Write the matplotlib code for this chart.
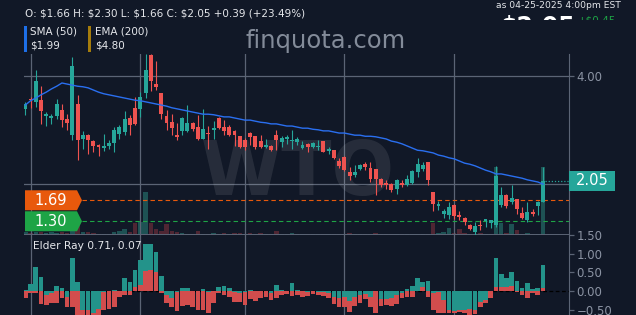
import numpy as np
import pandas as pd
import matplotlib
matplotlib.use("Agg")
import matplotlib.pyplot as plt
from matplotlib.patches import Polygon, Rectangle
from matplotlib.ticker import FuncFormatter
from matplotlib.transforms import blended_transform_factory

# trading days on the chart (exchange holidays left out)
holidays = ["2024-12-25", "2025-01-01", "2025-01-09", "2025-01-20",
            "2025-02-17", "2025-04-18"]
dates = pd.bdate_range("2024-11-29", "2025-04-25", freq="C", holidays=holidays)

opens = [3.39, 3.57, 3.52, 3.55, 3.26, 3.22, 3.26, 3.37, 3.20, 2.90,
         3.48, 2.83, 2.90, 2.79, 2.72, 2.66, 2.70, 2.75, 2.92, 2.96,
         3.22, 3.41, 3.39, 3.68, 4.39, 3.85, 3.68, 3.26, 3.14, 2.90,
         2.98, 2.98, 3.13, 3.05, 2.83, 2.94, 3.00, 3.22, 3.05, 3.05,
         2.98, 2.88, 2.81, 2.94, 2.88, 2.79, 2.68, 2.70, 2.90, 2.77,
         2.83, 2.79, 2.77, 2.66, 2.74, 2.68, 2.68, 2.79, 2.61, 2.62,
         2.42, 2.49, 2.22, 2.16, 2.27, 2.36, 2.29, 2.27, 2.09, 2.01,
         1.99, 1.90, 2.01, 1.97, 2.01, 2.22, 2.27, 2.40, 1.84, 1.58,
         1.43, 1.42, 1.60, 1.42, 1.36, 1.23, 1.10, 1.23, 1.30, 1.27,
         1.23, 1.60, 1.79, 1.66, 1.71, 1.45, 1.32, 1.47, 1.58, 1.66]
highs = [3.52, 3.61, 4.11, 3.81, 3.33, 3.29, 3.57, 3.48, 3.29, 4.35,
         3.65, 2.98, 2.92, 2.81, 2.74, 2.92, 2.81, 3.05, 3.09, 3.35,
         3.28, 3.61, 3.70, 4.40, 4.40, 4.28, 3.69, 3.37, 3.29, 3.13,
         3.23, 3.46, 3.14, 3.28, 3.39, 3.07, 3.16, 3.23, 3.18, 3.09,
         2.99, 2.89, 2.85, 2.95, 2.89, 2.90, 2.83, 2.71, 3.00, 2.88,
         2.90, 3.00, 2.87, 2.79, 2.75, 2.77, 2.81, 2.80, 2.68, 2.63,
         2.48, 2.51, 2.31, 2.35, 2.36, 2.40, 2.40, 2.28, 2.10, 2.07,
         2.01, 2.09, 2.07, 2.16, 2.25, 2.48, 2.40, 2.41, 1.85, 1.68,
         1.53, 1.66, 1.62, 1.49, 1.38, 1.25, 1.29, 1.32, 1.35, 1.33,
         2.33, 1.94, 1.81, 1.97, 1.72, 1.57, 1.66, 1.53, 1.67, 2.30]
lows = [3.28, 3.41, 3.42, 3.11, 3.07, 3.11, 3.20, 3.05, 3.00, 2.81,
        2.44, 2.64, 2.55, 2.59, 2.51, 2.61, 2.64, 2.59, 2.83, 2.90,
        2.90, 3.09, 3.24, 3.59, 3.72, 3.74, 3.20, 3.00, 2.90, 2.81,
        2.90, 2.96, 2.98, 2.81, 2.82, 2.64, 2.83, 3.01, 2.90, 2.88,
        2.70, 2.66, 2.62, 2.72, 2.64, 2.67, 2.66, 2.61, 2.62, 2.68,
        2.74, 2.64, 2.72, 2.64, 2.59, 2.66, 2.62, 2.58, 2.55, 2.46,
        2.29, 2.24, 2.07, 2.12, 2.25, 2.25, 2.03, 1.79, 1.94, 1.90,
        1.84, 1.81, 1.94, 1.96, 1.99, 2.12, 2.23, 1.97, 1.49, 1.51,
        1.36, 1.34, 1.34, 1.32, 1.23, 1.14, 1.04, 1.14, 1.19, 1.17,
        1.19, 1.57, 1.55, 1.62, 1.43, 1.34, 1.29, 1.40, 1.42, 1.66]
closes = [3.48, 3.55, 3.91, 3.35, 3.29, 3.26, 3.48, 3.18, 3.13, 4.19,
          2.81, 2.90, 2.81, 2.70, 2.68, 2.70, 2.75, 3.00, 3.05, 3.20,
          3.09, 3.11, 3.61, 4.11, 3.91, 3.80, 3.29, 3.13, 3.03, 2.87,
          3.22, 3.13, 3.01, 2.83, 3.01, 2.92, 3.03, 3.03, 2.98, 2.90,
          2.90, 2.68, 2.68, 2.87, 2.68, 2.68, 2.72, 2.62, 2.81, 2.85,
          2.87, 2.81, 2.83, 2.72, 2.68, 2.75, 2.70, 2.59, 2.64, 2.48,
          2.33, 2.25, 2.14, 2.22, 2.35, 2.31, 2.09, 2.09, 1.97, 1.97,
          1.88, 2.07, 1.97, 2.09, 2.23, 2.36, 2.35, 2.07, 1.62, 1.62,
          1.49, 1.57, 1.40, 1.38, 1.29, 1.16, 1.21, 1.21, 1.34, 1.32,
          2.14, 1.79, 1.58, 1.73, 1.53, 1.36, 1.47, 1.43, 1.66, 2.05]

sma50 = [3.46, 3.54, 3.59, 3.65, 3.70, 3.76, 3.81, 3.87, 3.85, 3.83,
         3.81, 3.80, 3.78, 3.74, 3.70, 3.67, 3.65, 3.63, 3.61, 3.59,
         3.57, 3.55, 3.54, 3.52, 3.50, 3.48, 3.46, 3.44, 3.41, 3.39,
         3.37, 3.35, 3.33, 3.31, 3.29, 3.29, 3.28, 3.26, 3.24, 3.24,
         3.22, 3.20, 3.18, 3.18, 3.16, 3.14, 3.13, 3.11, 3.11, 3.09,
         3.07, 3.07, 3.05, 3.03, 3.03, 3.01, 3.00, 2.98, 2.98, 2.96,
         2.94, 2.94, 2.92, 2.90, 2.90, 2.88, 2.88, 2.87, 2.85, 2.83,
         2.79, 2.77, 2.74, 2.70, 2.66, 2.62, 2.61, 2.59, 2.57, 2.53,
         2.51, 2.48, 2.46, 2.42, 2.38, 2.36, 2.33, 2.29, 2.25, 2.22,
         2.18, 2.18, 2.16, 2.14, 2.12, 2.10, 2.07, 2.05, 2.03, 1.99]

# volume, arbitrary units
volume = [3, 2, 3, 3, 2, 3, 2, 3, 2, 8,
          12, 3, 3, 2, 1, 1, 1, 3, 4, 6,
          3, 12, 13, 43, 12, 6, 4, 11, 4, 3,
          2, 1, 1, 4, 1, 1, 2, 1, 2, 1,
          2, 2, 1, 2, 1, 2, 1, 1, 4, 1,
          1, 2, 1, 1, 1, 1, 1, 1, 1, 1,
          1, 1, 2, 1, 1, 1, 1, 2, 1, 1,
          1, 1, 1, 1, 1, 1, 1, 1, 12, 2,
          3, 7, 2, 6, 2, 1, 1, 2, 1, 1,
          68, 12, 2, 11, 5, 1, 2, 1, 1, 68]

bull_power = [0.02, 0.19, 0.65, 0.37, -0.10, -0.05, 0.13, 0.07, -0.15, 0.88,
              0.25, -0.50, -0.52, -0.58, -0.48, -0.02, 0.00, 0.03, 0.00, 0.34,
              0.25, 0.58, 0.83, 1.28, 1.28, 1.06, 0.40, -0.10, -0.20, -0.02,
              0.07, 0.09, 0.00, 0.00, 0.06, -0.03, 0.00, 0.12, 0.14, 0.07,
              -0.02, -0.06, -0.02, 0.03, 0.00, 0.00, 0.00, -0.06, 0.16, 0.04,
              0.00, 0.22, 0.03, 0.00, -0.02, 0.00, -0.02, -0.03, -0.05, -0.15,
              -0.20, -0.15, -0.28, -0.15, -0.10, -0.08, -0.15, 0.00, -0.22, -0.22,
              -0.20, -0.10, -0.05, 0.05, 0.13, 0.34, 0.25, 0.27, -0.05, -0.02,
              -0.25, -0.51, -0.55, -0.51, -0.51, -0.47, -0.51, -0.29, -0.24, 0.00,
              0.88, 0.47, 0.34, 0.50, 0.27, 0.07, 0.21, 0.05, 0.07, 0.71]
bear_power = [-0.18, -0.06, -0.04, -0.35, -0.38, -0.33, -0.33, -0.20, -0.42, -0.44,
              -0.64, -0.64, -0.64, -0.64, -0.64, -0.51, -0.49, -0.44, -0.15, -0.11,
              -0.11, 0.12, 0.16, 0.54, 0.56, 0.52, -0.06, -0.31, -0.44, -0.54,
              -0.40, -0.38, -0.42, -0.51, -0.51, -0.60, -0.33, -0.06, -0.11, -0.15,
              -0.29, -0.29, -0.38, -0.22, -0.26, -0.20, -0.15, -0.24, -0.20, -0.11,
              -0.09, -0.13, -0.11, -0.15, -0.13, -0.09, -0.11, -0.14, -0.20, -0.35,
              -0.44, -0.42, -0.56, -0.40, -0.33, -0.22, -0.42, -0.60, -0.40, -0.38,
              -0.40, -0.35, -0.20, -0.15, -0.15, 0.00, 0.10, -0.15, -0.51, -0.58,
              -0.60, -0.58, -0.60, -0.56, -0.58, -0.64, -0.62, -0.44, -0.33, -0.20,
              0.12, 0.12, 0.12, 0.13, -0.03, -0.11, -0.20, -0.06, -0.11, 0.07]

levels = [1.69, 1.30]
level_colors = ["#e8590c", "#1ea446"]

BG = "#111827"
GRID = "#5b6475"
TXT = "#e5e7eb"
TICK = "#8b93a3"
UP = "#26a69a"
DOWN = "#ef5350"

W, H = 636, 315


def px_box(left, top, right, bottom):
    return [left / W, 1 - bottom / H, (right - left) / W, (bottom - top) / H]


def fig_xy(x, y):
    return x / W, 1 - y / H


opens, highs, lows, closes = map(np.array, (opens, highs, lows, closes))
x = np.arange(len(dates))
up = closes >= opens
colors = np.where(up, UP, DOWN)

fig = plt.figure(figsize=(W / 100, H / 100), dpi=100)
fig.patch.set_facecolor(BG)

ax = fig.add_axes(px_box(24, 54, 569, 235))
ax_er = fig.add_axes(px_box(24, 235, 569, 315), sharex=ax)
axv = ax.twinx()
axv.set_zorder(ax.get_zorder() - 1)
ax.patch.set_visible(False)
axv.patch.set_facecolor(BG)

for a in (ax, ax_er):
    for side in ("left", "top", "bottom"):
        a.spines[side].set_visible(False)
    a.spines["right"].set_color(GRID)
    a.yaxis.tick_right()
    a.tick_params(axis="y", colors=GRID, labelcolor=TICK, labelsize=8.5,
                  length=3.5, width=0.9, pad=2)
    a.tick_params(axis="x", length=0, labelbottom=False)
for side in ("left", "top", "bottom", "right"):
    axv.spines[side].set_visible(False)
axv.set_yticks([])

ax.set_xlim(-0.25, 103.96)
ylim = (1.0446, 4.409)
ax.set_ylim(*ylim)
ax.set_yticks([4.0])
ax.yaxis.set_major_formatter(FuncFormatter(lambda v, p: f"{v:.2f}"))

# month gridlines
month_starts = [i for i in range(1, len(dates)) if dates[i].month != dates[i - 1].month]
for i in month_starts:
    ax.axvline(i, color=GRID, lw=0.9, zorder=0)
    ax_er.axvline(i, color=GRID, lw=0.9, zorder=0)
for v in (2.0, 4.0):
    ax.axhline(v, color=GRID, lw=0.9, zorder=0)
ax.axhline(ylim[0], color=GRID, lw=1.4, zorder=0)

# big ticker watermark
ax.text(0.503, 0.22, "WTO", transform=ax.transAxes, ha="center", va="baseline",
        fontsize=53, fontweight="bold", color="white", alpha=0.09, zorder=1)

# volume
vol_colors = np.where(up, "#1e5254", "#4f2633")
axv.bar(x, volume, width=0.85, color=vol_colors, linewidth=0)
axv.set_ylim(0, max(volume) * 181 / 68)

# candles
ax.vlines(x, lows, highs, colors=colors, linewidth=0.8, zorder=3)
body_low = np.minimum(opens, closes)
body_h = np.maximum(np.abs(closes - opens), 0.02)
ax.bar(x, body_h, bottom=body_low, width=0.75, color=colors, linewidth=0, zorder=4)

ax.plot(x, sma50, color="#2a6ff0", lw=1.0, zorder=5)

# support levels with tags on the left
trans = blended_transform_factory(ax.transAxes, ax.transData)
half = 10 * (ylim[1] - ylim[0]) / 181
x0, x1, xt = 1 / 545, 53 / 545, 58 / 545
for lv, c in zip(levels, level_colors):
    ax.plot([xt, 1], [lv, lv], transform=trans, color=c, lw=0.8,
            dashes=(4, 2.8), zorder=2)
    ax.add_patch(Polygon([(x0, lv - half), (x1, lv - half), (xt, lv),
                          (x1, lv + half), (x0, lv + half)],
                         closed=True, transform=trans, facecolor=c,
                         edgecolor="none", zorder=6))
    ax.text(27 / 545, lv, f"{lv:.2f}", transform=trans, ha="center",
            va="center", color="white", fontsize=10.5, zorder=7)

# last price marker
last = closes[-1]
ax.plot([x[-1] + 0.3, ax.get_xlim()[1]], [last, last], color=UP, lw=0.9,
        ls=(0, (1, 1.5)), zorder=2)
ax.add_patch(Rectangle((1.0, last - half), 46 / 545, 2 * half, transform=trans,
                       facecolor=UP, edgecolor="none", clip_on=False, zorder=10))
ax.text(1 + 23 / 545, last, f"{last:.2f}", transform=trans, ha="center",
        va="center", color="white", fontsize=10.5, clip_on=False, zorder=11)

# Elder Ray panel
bull = np.array(bull_power)
bear = np.array(bear_power)
er_up = "#23938a"
er_dn = "#d24d4d"
bull_long = np.abs(bull) >= np.abs(bear)
# draw the longer bar first so the shorter one stays visible
ax_er.bar(x[bull_long], bull[bull_long], width=0.9, color=er_up, lw=0, zorder=2)
ax_er.bar(x[~bull_long], bear[~bull_long], width=0.9, color=er_dn, lw=0, zorder=2)
ax_er.bar(x[bull_long], bear[bull_long], width=0.9, color=er_dn, lw=0, zorder=3)
ax_er.bar(x[~bull_long], bull[~bull_long], width=0.9, color=er_up, lw=0, zorder=3)
ax_er.axhline(0, color="black", lw=0.9, ls=(0, (3, 2)), zorder=1)
ax_er.set_ylim(-0.645, 1.51)
ax_er.set_yticks([-0.5, 0.0, 0.5, 1.0, 1.5])
ax_er.yaxis.set_major_formatter(
    FuncFormatter(lambda v, p: f"{v:.2f}".replace("-", "\u2212")))
ax_er.patch.set_facecolor(BG)
ax_er.text(9 / 545, 0.86, f"Elder Ray {bull[-1]:.2f}, {bear[-1]:.2f}",
           transform=ax_er.transAxes, ha="left", va="center", color=TXT,
           fontsize=7.7, zorder=6)

# header texts
fig.text(*fig_xy(25, 14), r"O: \$1.66 H: \$2.30 L: \$1.66 C: \$2.05 +0.39 (+23.49%)",
         ha="left", va="center", color=TXT, fontsize=7.5)
fig.add_artist(Rectangle(fig_xy(24, 52), 2.5 / W, 26 / H, transform=fig.transFigure,
                         facecolor="#1d6fe8", edgecolor="none"))
fig.add_artist(Rectangle(fig_xy(87.5, 52), 3.5 / W, 26 / H, transform=fig.transFigure,
                         facecolor="#a57c0c", edgecolor="none"))
fig.text(*fig_xy(30, 31), "SMA (50)", ha="left", va="center", color=TXT, fontsize=7.5)
fig.text(*fig_xy(30, 46), r"\$1.99", ha="left", va="center", color=TXT, fontsize=7.5)
fig.text(*fig_xy(95, 31), "EMA (200)", ha="left", va="center", color=TXT, fontsize=7.5)
fig.text(*fig_xy(95, 46), r"\$4.80", ha="left", va="center", color=TXT, fontsize=7.5)
fig.text(*fig_xy(326, 41), "finquota.com", ha="center", va="center",
         color="#838b99", fontsize=17.5)
fig.text(*fig_xy(621, 6), "as 04-25-2025 4:00pm EST", ha="right", va="center",
         color=TXT, fontsize=6.6)

# big quote line, mostly hidden under the header bar
clip_ax = fig.add_axes(px_box(480, 14.5, 636, 19.5))
clip_ax.axis("off")
clip_ax.text(20 / 156, 0.9, r"\$2.05", transform=clip_ax.transAxes, ha="left",
             va="top", color="white", fontsize=17, fontweight="bold", clip_on=True)
clip_ax.text(98 / 156, 0.75, r"+\$0.45", transform=clip_ax.transAxes, ha="left",
             va="top", color="#1ea446", fontsize=7.5, clip_on=True)

fig.savefig("out.png", dpi=100, facecolor=BG)
